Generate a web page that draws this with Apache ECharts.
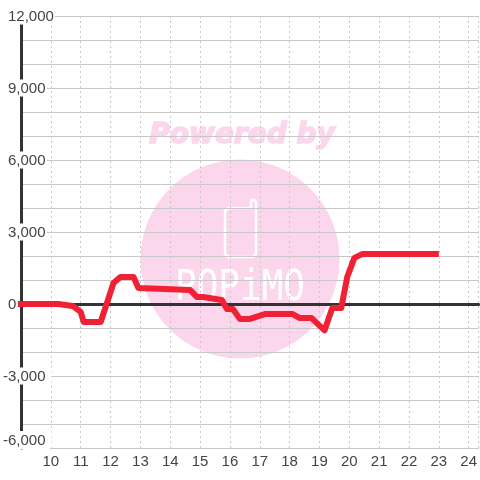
<!DOCTYPE html>
<html><head><meta charset="utf-8">
<style>html,body{margin:0;padding:0;background:#fff}#c{width:480px;height:480px}</style>
<script src="https://cdn.jsdelivr.net/npm/echarts@6/dist/echarts.min.js"></script>
</head><body><div id="c"></div>
<script>
const hours = [8.9,10.25,10.73,11,11.1,11.67,12.1,12.33,12.77,12.93,14.67,14.9,15.1,15.73,15.9,16.1,16.33,16.67,17.17,18.1,18.33,18.73,19.17,19.43,19.73,19.93,20.17,20.43,23];
const values = [0,0,-80,-330,-750,-750,875,1125,1125,670,580,290,290,170,-210,-210,-620,-620,-420,-420,-580,-580,-1100,-170,-170,1125,1920,2080,2080];
const xMin = 9, xMax = 24.333;
const yMin = -6000, yMax = 12000, yStep = 1000, yLabelStep = 3000;
const watermarkTop = 'Powered by';
const watermarkBottom = 'POPiMO';
const pink = '#fbd6ec';
const chart = echarts.init(document.getElementById('c'), null, {renderer:'canvas'});
const fmt = v => {
  if (v % yLabelStep !== 0) return '';
  const s = Math.abs(v).toLocaleString('en-US');
  return v < 0 ? '{n|-' + s + '}' : '{p|' + s + '}';
};
chart.setOption({
  animation:false,
  backgroundColor:'#fff',
  grid:{left:20,right:0,top:16,bottom:32,containLabel:false},
  graphic:[
    {type:'circle',z:-10,silent:true,shape:{cx:240,cy:259,r:99.5},style:{fill:pink}},
    {type:'text',z:-10,silent:true,x:242,y:136,style:{text:watermarkTop,fill:pink,stroke:pink,lineWidth:1.5,font:'italic bold 28px "DejaVu Sans"',align:'center',verticalAlign:'middle'}},
    {type:'polyline',z:-9,silent:true,shape:{points:[[251,208],[251,202],[252,200],[254,200],[256,202],[256,254],[253,257],[228,257],[225,254],[225,211],[228,208],[251,208]]},style:{fill:'none',stroke:'#fff',lineWidth:2.5,lineJoin:'round'}},
    {type:'text',z:-9,silent:true,x:240,y:289,scaleY:1.2,style:{text:watermarkBottom,fill:'#fff',font:'36px "DejaVu Sans Mono"',align:'center',verticalAlign:'middle'}},
    {type:'rect',z:1,silent:true,shape:{x:20,y:447,width:30,height:2},style:{fill:'#fff'}}
  ],
  xAxis:[
    {type:'value',min:xMin,max:xMax,interval:1,position:'bottom',
     axisLine:{onZero:false,show:true,lineStyle:{color:'#c8c8c8',width:1}},axisTick:{show:false},
     axisLabel:{color:'#444',fontSize:15,fontFamily:'Liberation Sans',margin:6,showMinLabel:false,showMaxLabel:false,
       formatter:v=>(v>=10&&v<=24&&Number.isInteger(v))?String(v):''},
     splitLine:{show:true,lineStyle:{color:'#c8c8c8',type:[2,3],width:1}}},
    {type:'value',min:xMin,max:xMax,interval:1,position:'top',
     axisLine:{onZero:true,show:true,lineStyle:{color:'#333',width:3}},axisTick:{show:false},axisLabel:{show:false},splitLine:{show:false}}
  ],
  yAxis:{type:'value',min:yMin,max:yMax,interval:yStep,
    axisLine:{show:true,onZero:false,lineStyle:{color:'#333',width:3}},axisTick:{show:false},
    axisLabel:{color:'#444',fontSize:15,fontFamily:'Liberation Sans',align:'left',margin:18,
      verticalAlignMinLabel:'bottom',formatter:fmt,showMinLabel:true,showMaxLabel:true,
      rich:{
        p:{color:'#444',fontSize:15,fontFamily:'Liberation Sans',backgroundColor:'#fff',padding:[2,1,0,5]},
        n:{color:'#444',fontSize:15,fontFamily:'Liberation Sans',backgroundColor:'#fff',padding:[2,6,0,0]}
      }},
    splitLine:{show:true,lineStyle:{color:'#c8c8c8',width:1}}},
  series:[{type:'line',xAxisIndex:0,data:hours.map((h,i)=>[h,values[i]]),showSymbol:false,smooth:false,z:5,clip:false,
    lineStyle:{color:'#f02035',width:6,cap:'butt',join:'round'}}]
});
</script></body></html>
